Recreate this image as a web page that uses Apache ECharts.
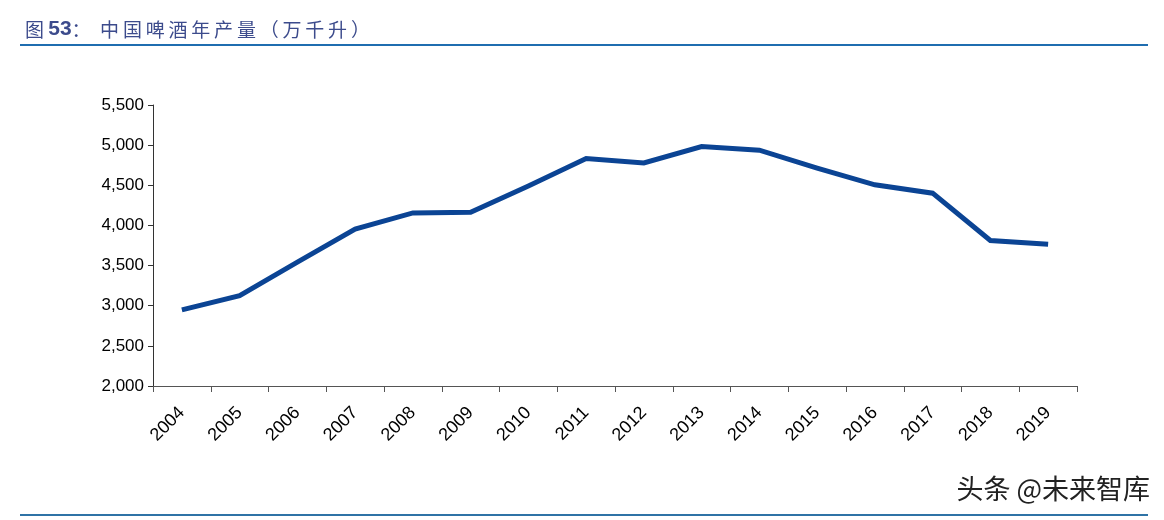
<!DOCTYPE html>
<html>
<head>
<meta charset="utf-8">
<script src="https://cdn.jsdelivr.net/npm/echarts@6/dist/echarts.min.js"></script>
<style>
  html, body { margin: 0; padding: 0; background: #fff; }
  #chart { width: 1164px; height: 520px; }
</style>
</head>
<body>
<div id="chart"></div>
<script>
// 中国啤酒年产量（万千升）
const years = ['2004', '2005', '2006', '2007', '2008', '2009', '2010', '2011',
  '2012', '2013', '2014', '2015', '2016', '2017', '2018', '2019'];
const output = [2949, 3126, 3543, 3954, 4156, 4163, 4490, 4834,
  4779, 4983, 4937, 4715, 4506, 4402, 3812, 3765];

// spread CJK title chars a bit, like the source report
const spaced = (s) => s.split('').join('\u2009');

const chart = echarts.init(document.getElementById('chart'));
chart.setOption({
  animation: false,
  title: {
    text: '{a|图 }{b|53}{a|：\u2002' + spaced('中国啤酒年产量（万千升）') + '}',
    left: 20,
    top: 14,
    textStyle: {
      rich: {
        a: { fontFamily: 'Noto Sans CJK SC', fontSize: 19, color: '#3c4b8c', fontWeight: 'normal' },
        b: { fontFamily: 'Liberation Sans', fontSize: 21, color: '#3c4b8c', fontWeight: 'bold' },
      },
    },
  },
  graphic: [{
    type: 'line',
    shape: { x1: 20, y1: 45, x2: 1148, y2: 45 },
    style: { stroke: '#1f6db0', lineWidth: 2 },
  }, {
    type: 'line',
    shape: { x1: 20, y1: 515, x2: 1148, y2: 515 },
    style: { stroke: '#2f73a6', lineWidth: 2 },
  }, {
    type: 'text',
    right: 14,
    top: 475,
    style: {
      text: '头条 @未来智库',
      font: '27px "Noto Sans CJK SC"',
      fill: '#222',
    },
  }],
  grid: {
    left: 153,
    right: 87,
    top: 105,
    bottom: 134,
  },
  xAxis: {
    type: 'category',
    data: years,
    boundaryGap: true,
    axisLine: { lineStyle: { color: '#555', width: 1 } },
    axisTick: { show: true, length: 6, lineStyle: { color: '#555' } },
    axisLabel: {
      rotate: 45,
      fontFamily: 'Liberation Sans',
      fontSize: 18,
      color: '#000',
      margin: 24,
      interval: 0,
    },
  },
  yAxis: {
    type: 'value',
    min: 2000,
    max: 5500,
    interval: 500,
    splitLine: { show: false },
    axisLine: { show: true, lineStyle: { color: '#333', width: 1 } },
    axisTick: { show: true, length: 5, lineStyle: { color: '#333' } },
    axisLabel: {
      fontFamily: 'Liberation Sans',
      fontSize: 17,
      color: '#000',
      margin: 9,
      formatter: (v) => v.toLocaleString('en-US'),
    },
  },
  series: [{
    name: '产量',
    type: 'line',
    data: output,
    symbol: 'none',
    lineStyle: { color: '#0b4494', width: 5, join: 'miter' },
  }],
});
</script>
</body>
</html>
